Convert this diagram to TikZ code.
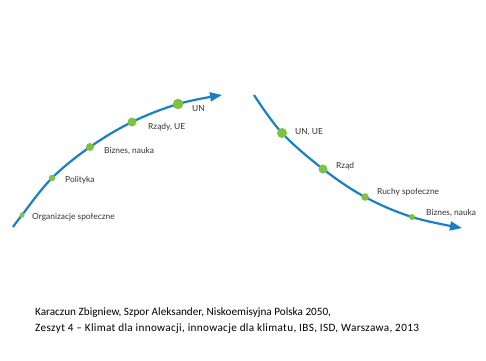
\documentclass[tikz,border=0pt]{standalone}
\usepackage{fontspec}
\setmainfont{Lato}
\newfontfamily\calib{Carlito}
\usetikzlibrary{arrows.meta}
\definecolor{curveblue}{HTML}{1B7FC4}
\definecolor{dotgreen}{HTML}{7DC242}
\tikzset{
  curve/.style={curveblue, line width=2.2pt, -{Triangle[length=12pt,width=9pt]}},
  gdot/.style={circle, fill=dotgreen, inner sep=0pt, minimum size=#1},
  lbl/.style={anchor=west, font=\fontsize{8.4}{10}\selectfont, text=black!80, inner sep=0pt},
  src/.style={anchor=west, font=\calib\fontsize{11.2}{13}\selectfont, inner sep=0pt}
}
\begin{document}
\begin{tikzpicture}[x=1pt,y=-1pt]
\useasboundingbox[fill=white] (0,0) rectangle (486,360);
% left curve
\draw[curve] plot[smooth, tension=0.6] coordinates {(13,227) (22,215) (52,178) (90,147) (132,122) (178,104) (222,95)};
\node[gdot=5pt] (l1) at (22,215) {};
\node[gdot=6.5pt] (l2) at (52,178) {};
\node[gdot=8pt] (l3) at (90,147) {};
\node[gdot=9pt] (l4) at (132,122) {};
\node[gdot=10.5pt] (l5) at (178,104) {};
\node[lbl] (t1) at (32,217) {Organizacje społeczne};
\node[lbl] (t2) at (65,180) {Polityka};
\node[lbl] (t3) at (104,151) {Biznes, nauka};
\node[lbl] (t4) at (148,127) {Rządy, UE};
\node[lbl] (t5) at (192,109) {UN};
% right curve
\draw[curve] plot[smooth, tension=0.6] coordinates {(254,95) (282,133) (323,169) (365,197) (412,217) (462,228)};
\node[gdot=10pt] (r1) at (282,133) {};
\node[gdot=9pt] (r2) at (323,169) {};
\node[gdot=7.5pt] (r3) at (365,197) {};
\node[gdot=6pt] (r4) at (412,217) {};
\node[lbl] (u1) at (295,132) {UN, UE};
\node[lbl] (u2) at (336,166) {Rząd};
\node[lbl] (u3) at (377,192) {Ruchy społeczne};
\node[lbl] (u4) at (426,213) {Biznes, nauka};
% source
\node[src] (s1) at (35,313) {Karaczun Zbigniew, Szpor Aleksander, Niskoemisyjna Polska 2050,};
\node[src] (s2) at (35,329) {\addfontfeature{LetterSpace=3}Zeszyt 4 – Klimat dla innowacji, innowacje dla klimatu, IBS, ISD, Warszawa, 2013};
\end{tikzpicture}
\end{document}
